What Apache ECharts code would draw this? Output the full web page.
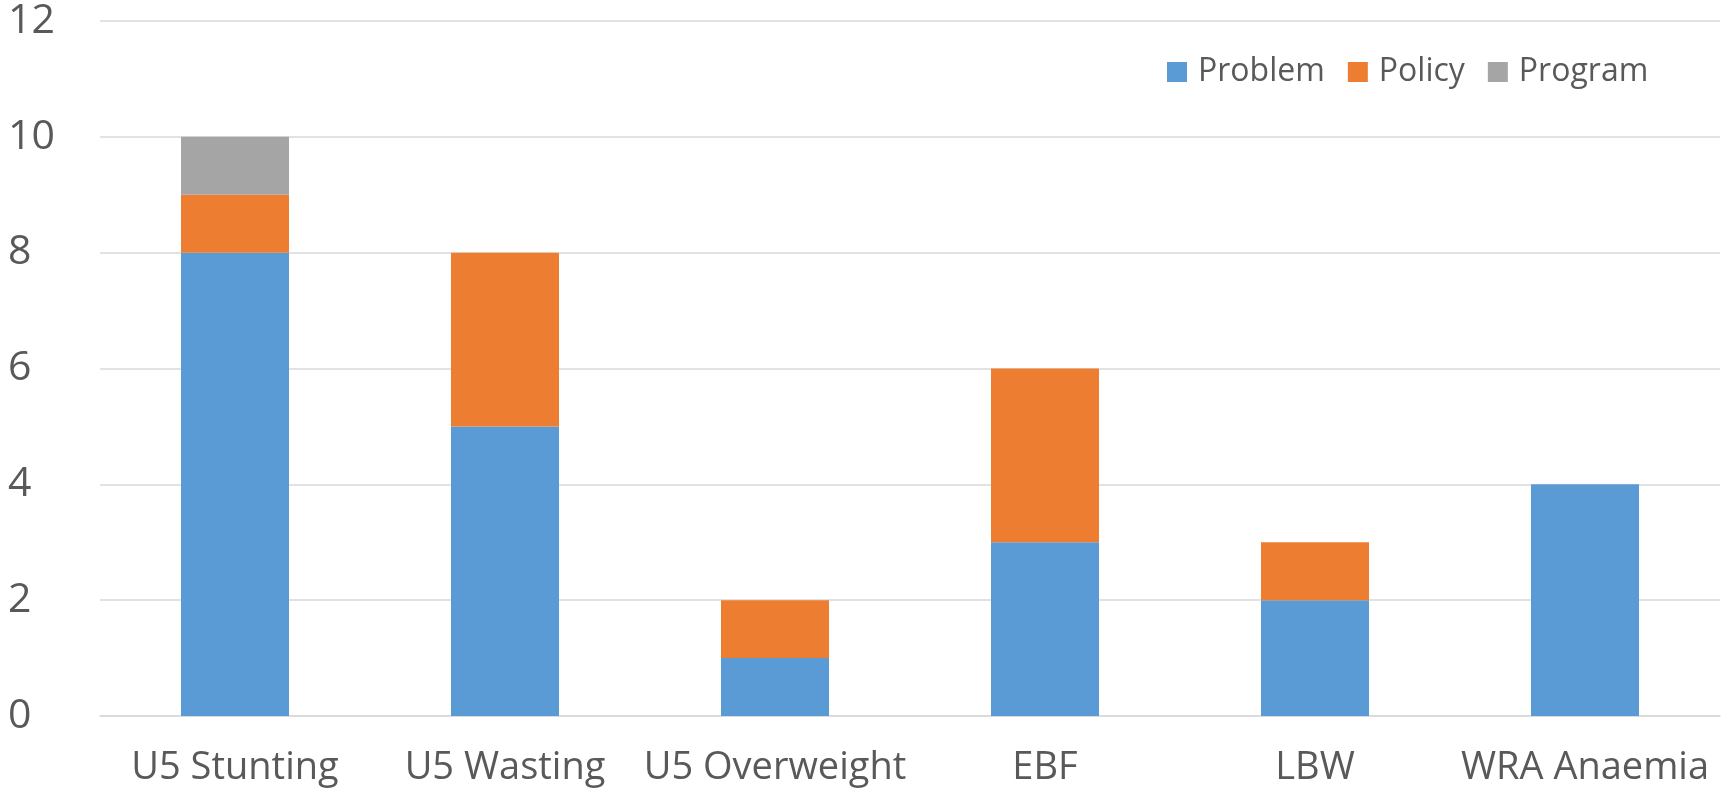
<!DOCTYPE html>
<html>
<head>
<meta charset="utf-8">
<script src="https://cdn.jsdelivr.net/npm/echarts@6/dist/echarts.min.js"></script>
<style>
  html, body { margin: 0; padding: 0; background: #ffffff; }
  #chart { width: 1721px; height: 791px; }
</style>
</head>
<body>
<div id="chart"></div>
<script>
// Indicator categories along the x axis
const categories = ['U5 Stunting', 'U5 Wasting', 'U5 Overweight', 'EBF', 'LBW', 'WRA Anaemia'];

// Stacked counts per category
const problemValues = [8, 5, 1, 3, 2, 4];
const policyValues  = [1, 3, 1, 3, 1, 0];
const programValues = [1, 0, 0, 0, 0, 0];

// Y axis range and step
const yMin = 0;
const yMax = 12;
const yStep = 2;

const FONT = '"Open Sans", "Noto Sans", sans-serif';
const TEXT = '#595959';
const GRID = '#D9D9D9';

const chart = echarts.init(document.getElementById('chart'), null, { renderer: 'canvas' });

function stackSeries(name, data, color) {
  return {
    name: name,
    type: 'bar',
    stack: 'total',
    data: data,
    barWidth: 108,
    itemStyle: { color: color },
    emphasis: { disabled: true }
  };
}

chart.setOption({
  animation: false,
  backgroundColor: '#ffffff',
  grid: { left: 100, right: 1, top: 21, bottom: 75, containLabel: false },
  legend: {
    data: ['Problem', 'Policy', 'Program'],
    left: 1162,
    top: 51,
    itemWidth: 20,
    itemHeight: 20,
    itemGap: 23,
    icon: 'rect',
    textStyle: { fontFamily: FONT, fontSize: 32, color: TEXT, padding: [0, 0, 0, 6] }
  },
  xAxis: {
    type: 'category',
    data: categories,
    axisLine: { show: true, lineStyle: { color: GRID, width: 1.5 } },
    axisTick: { show: false },
    axisLabel: { fontFamily: FONT, fontSize: 38, color: TEXT, margin: 33, interval: 0 }
  },
  yAxis: {
    type: 'value',
    min: yMin,
    max: yMax,
    interval: yStep,
    axisLine: { show: false },
    axisTick: { show: false },
    splitLine: { lineStyle: { color: GRID, width: 1.5 } },
    axisLabel: { fontFamily: FONT, fontSize: 41, color: TEXT, align: 'left', margin: 92 }
  },
  series: [
    stackSeries('Problem', problemValues, '#5B9BD5'),
    stackSeries('Policy', policyValues, '#ED7D31'),
    stackSeries('Program', programValues, '#A5A5A5')
  ]
});
</script>
</body>
</html>
